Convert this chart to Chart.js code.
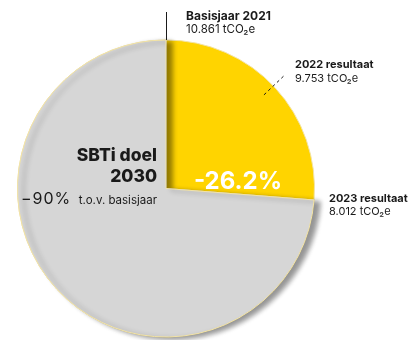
<!DOCTYPE html>
<html>
<head>
<meta charset="utf-8">
<script src="https://cdn.jsdelivr.net/npm/chart.js@4.4.1/dist/chart.umd.min.js"></script>
<style>
  html, body { margin: 0; padding: 0; background: #fff; }
  #wrap { width: 416px; height: 340px; }
</style>
</head>
<body>
<div id="wrap"><canvas id="chart" width="416" height="340"></canvas></div>
<script>
// data (tCO2e)
const years = ["2021", "2022", "2023"];
const emissions = [10861, 9753, 8012];
const sliceLabels = ["Reductie t.o.v. 2021", "2023 resultaat"];
const sliceColors = ["#FFD400", "#D6D6D6"];
const targetYear = "2030";
const targetReduction = -90;

const base = emissions[0];
const latest = emissions[emissions.length - 1];
const sliceValues = [base - latest, latest];
const reductionPct = ((latest - base) / base * 100).toFixed(1);

const FONT = "Inter, 'Noto Sans', sans-serif";

function nl(n) {
  return String(n).replace(/\B(?=(\d{3})+(?!\d))/g, ".");
}

function text(ctx, str, x, y, size, weight, color, align, spacing) {
  ctx.font = weight + " " + size + "px " + FONT;
  ctx.fillStyle = color || "#1a1a1a";
  ctx.textAlign = align || "left";
  ctx.textBaseline = "alphabetic";
  ctx.letterSpacing = spacing || "0px";
  ctx.fillText(str, x, y);
  ctx.letterSpacing = "0px";
}

// shadow on the grey slice + all the labels
const annotations = {
  id: "annotations",
  afterDatasetsDraw(chart) {
    const ctx = chart.ctx;
    const arcs = chart.getDatasetMeta(0).data;
    const grey = arcs[1];
    const cx = grey.x, cy = grey.y, r = grey.outerRadius;

    ctx.save();
    ctx.shadowColor = "rgba(0,0,0,0.42)";
    ctx.shadowBlur = 5;
    ctx.shadowOffsetX = 6;
    ctx.shadowOffsetY = 2;
    grey.draw(ctx);
    ctx.restore();

    // leader line basisjaar
    ctx.save();
    ctx.strokeStyle = "#1a1a1a";
    ctx.lineWidth = 1;
    ctx.beginPath();
    ctx.moveTo(cx + 0.5, 12);
    ctx.lineTo(cx + 0.5, cy - r);
    ctx.stroke();

    // dashed marker 2022
    const a = 46.3 * Math.PI / 180;
    ctx.setLineDash([3, 3]);
    ctx.beginPath();
    ctx.moveTo(cx + Math.sin(a) * (r - 13), cy - Math.cos(a) * (r - 13));
    ctx.lineTo(cx + Math.sin(a) * (r + 17), cy - Math.cos(a) * (r + 17));
    ctx.stroke();
    ctx.restore();

    text(ctx, "Basisjaar " + years[0], 186, 20, 12, "700");
    text(ctx, nl(emissions[0]) + " tCO\u2082e", 186, 33, 11.5, "400");

    text(ctx, years[1] + " resultaat", 295, 68, 11, "700");
    text(ctx, nl(emissions[1]) + " tCO\u2082e", 295, 82, 11, "400");

    text(ctx, years[2] + " resultaat", 329, 202, 11, "700");
    text(ctx, nl(emissions[2]) + " tCO\u2082e", 329, 215, 11, "400");

    text(ctx, reductionPct + "%", 238, 189, 24, "700", "#ffffff", "center");

    text(ctx, "SBTi doel", 157, 161, 17.5, "800", "#1a1a1a", "right");
    text(ctx, targetYear, 157, 182, 17.5, "800", "#1a1a1a", "right");
    text(ctx, "\u2212" + Math.abs(targetReduction) + "%", 21, 204, 16, "400", "#1a1a1a", "left", "1px");
    text(ctx, "t.o.v. basisjaar", 157, 204, 11.5, "400", "#1a1a1a", "right");
  }
};

new Chart(document.getElementById("chart").getContext("2d"), {
  type: "pie",
  data: {
    labels: sliceLabels,
    datasets: [
      {
        data: sliceValues,
        backgroundColor: sliceColors,
        borderColor: "#F2E3A6",
        borderWidth: 1
      }
    ]
  },
  options: {
    responsive: false,
    animation: false,
    events: [],
    layout: { padding: { top: 39, bottom: 2, left: 17, right: 101 } },
    plugins: {
      legend: { display: false },
      tooltip: { enabled: false }
    }
  },
  plugins: [annotations]
});
</script>
</body>
</html>
